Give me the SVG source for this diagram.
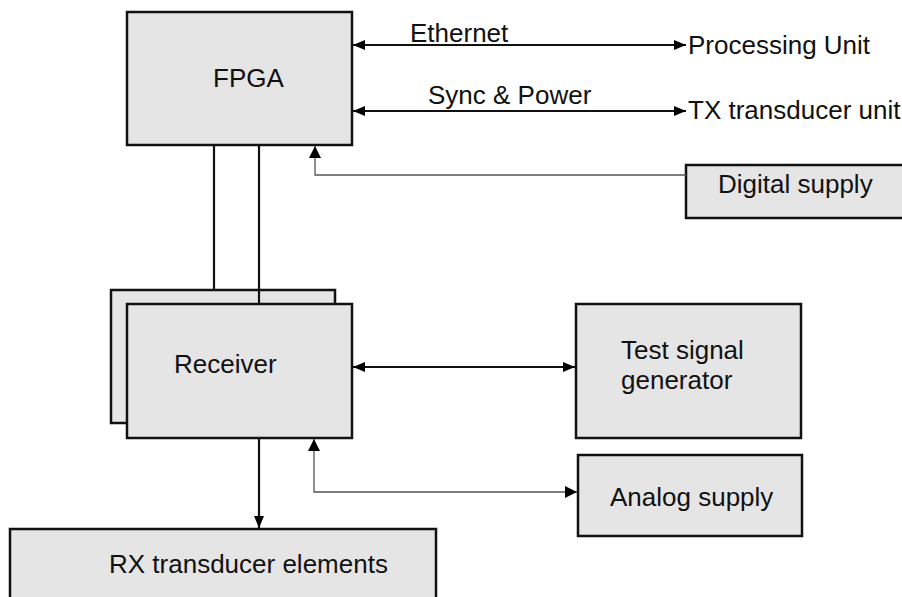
<svg xmlns="http://www.w3.org/2000/svg" width="902" height="597" viewBox="0 0 902 597">
<style>
.box{fill:#e5e5e5;stroke:#111;stroke-width:2.5}
.t{font-family:"Liberation Sans",Arial,sans-serif;font-size:26px;fill:#111}
.w{fill:none;stroke:#111;stroke-width:2.2}
.th{fill:none;stroke:#555;stroke-width:1.3}
.thb{fill:none;stroke:#111;stroke-width:1.3}
</style>
<defs>
<marker id="ah" viewBox="0 0 12 10" refX="12" refY="5" markerWidth="12" markerHeight="10" markerUnits="userSpaceOnUse" orient="auto-start-reverse">
<path d="M0,0 L12,5 L0,10 Z" fill="#000"/>
</marker>
<marker id="ahs" viewBox="0 0 12 12" refX="12" refY="6" markerWidth="12" markerHeight="12" markerUnits="userSpaceOnUse" orient="auto-start-reverse">
<path d="M0,0 L12,6 L0,12 Z" fill="#000"/>
</marker>
</defs>
<rect width="902" height="597" fill="#fff"/>
<g id="fpga">
<rect class="box" x="127" y="12" width="225" height="133"/>
<text class="t" x="213" y="87">FPGA</text>
</g>
<g id="digital-supply">
<rect class="box" x="686" y="165" width="222" height="53"/>
<text class="t" x="718" y="193">Digital supply</text>
</g>
<g id="receiver">
<rect class="box" x="111" y="290" width="224" height="133"/>
<rect class="box" x="127" y="304" width="225" height="134"/>
<text class="t" x="174" y="373">Receiver</text>
</g>
<g id="test-signal-generator">
<rect class="box" x="576" y="304" width="225" height="134"/>
<text class="t" x="621" y="359">Test signal</text>
<text class="t" x="621" y="389">generator</text>
</g>
<g id="analog-supply">
<rect class="box" x="578" y="455" width="224" height="81"/>
<text class="t" x="610" y="506">Analog supply</text>
</g>
<g id="rx-transducer">
<rect class="box" x="10" y="529" width="426" height="80"/>
<text class="t" x="109" y="573">RX transducer elements</text>
</g>
<g id="labels">
<text class="t" x="410" y="42">Ethernet</text>
<text class="t" x="428" y="104">Sync &amp; Power</text>
<text class="t" x="688" y="54">Processing Unit</text>
<text class="t" x="688" y="119">TX transducer unit</text>
</g>
<g id="connectors">
<line class="w" x1="353" y1="45" x2="686" y2="45" marker-start="url(#ah)" marker-end="url(#ah)"/>
<line class="w" x1="353" y1="111" x2="686" y2="111" marker-start="url(#ah)" marker-end="url(#ah)"/>
<polyline class="th" points="686,175 315,175 315,146" marker-end="url(#ahs)"/>
<line class="w" x1="214" y1="145" x2="214" y2="290"/>
<line class="w" x1="259" y1="145" x2="259" y2="304"/>
<line class="w" x1="353" y1="367" x2="575" y2="367" marker-start="url(#ah)" marker-end="url(#ah)"/>
<polyline class="th" points="314,439 314,492 577,492" marker-start="url(#ahs)" marker-end="url(#ahs)"/>
<line class="w" x1="259" y1="438" x2="259" y2="528" marker-end="url(#ah)"/>
</g>
</svg>
